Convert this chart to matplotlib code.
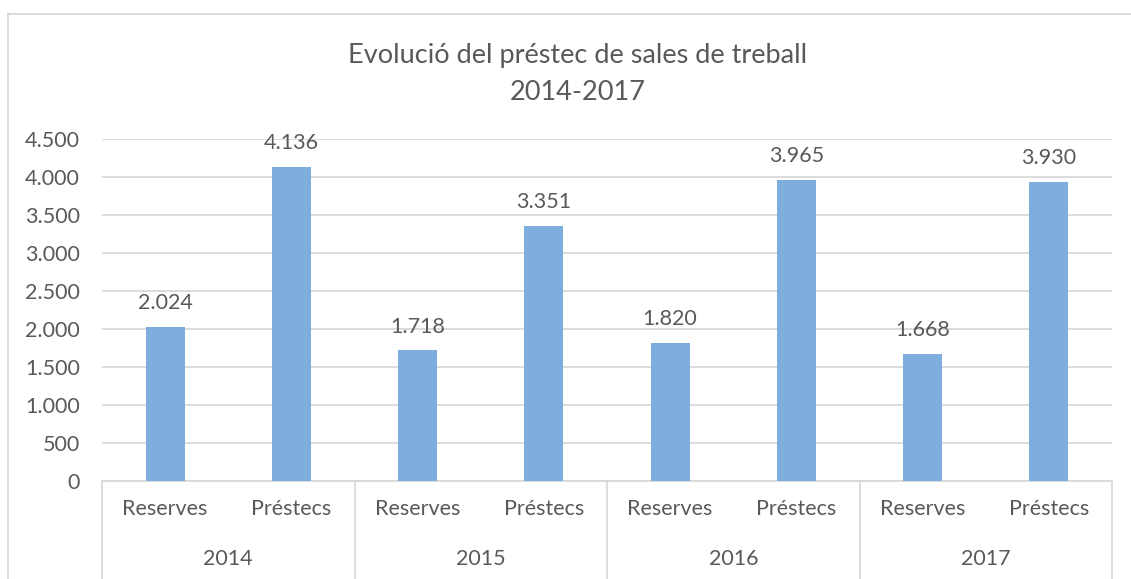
import matplotlib.pyplot as plt
from matplotlib.lines import Line2D
import numpy as np

years = ["2014", "2015", "2016", "2017"]
types = ["Reserves", "Préstecs"]
values = [2024, 4136, 1718, 3351, 1820, 3965, 1668, 3930]
yticks = [0, 500, 1000, 1500, 2000, 2500, 3000, 3500, 4000, 4500]

plt.rcParams['font.family'] = ['Lato', 'DejaVu Sans']
txt = '#595959'
blue = '#7DAEDD'

def fmt(v):
    return f"{v:,}".replace(",", ".")

fig = plt.figure(figsize=(11.31, 5.79), dpi=100)
ax = fig.add_axes([102/1131, 98/579, 1010/1131, 342/579])

x = np.arange(len(values))
bars = ax.bar(x, values, width=0.31, color=blue, zorder=3)
for b, v in zip(bars, values):
    ax.annotate(fmt(v), (b.get_x() + b.get_width()/2, v), xytext=(0, 10),
                textcoords='offset points', ha='center', va='bottom',
                fontsize=15.5, color=txt)

ax.set_xlim(-0.5, len(values) - 0.5)
ax.set_ylim(0, 4500)
ax.set_yticks(yticks)
ax.set_yticklabels([fmt(v) for v in yticks])
ax.grid(axis='y', color='#D9D9D9', linewidth=1.3, zorder=0)
for s in ['top', 'right', 'left']:
    ax.spines[s].set_visible(False)
ax.spines['bottom'].set_color('#D9D9D9')
ax.spines['bottom'].set_linewidth(1.3)
ax.tick_params(axis='y', length=0, pad=16, labelsize=15.5, labelcolor=txt)

# inner level labels
ax.set_xticks(x)
ax.set_xticklabels(types * len(years))
ax.tick_params(axis='x', which='major', length=0, pad=13, labelsize=15.5, labelcolor=txt)
# group separators
ax.set_xticks(np.arange(-0.5, len(values), 2), minor=True)
ax.tick_params(axis='x', which='minor', length=72, width=1.3, color='#D9D9D9')

# outer level labels
trans = ax.get_xaxis_transform()
for i, yr in enumerate(years):
    ax.text(2*i + 0.5, -78/342, yr, transform=trans, ha='center', va='center',
            fontsize=15.5, color=txt)

fig.text(578/1131, 1 - 56/579, "Evolució del préstec de sales de treball",
         ha='center', va='center', fontsize=19.5, color=txt)
fig.text(578/1131, 1 - 92/579, "2014-2017",
         ha='center', va='center', fontsize=19.5, color=txt)

# chart frame
fig.add_artist(Line2D([8/1131, 8/1131], [0, 1 - 14/579], transform=fig.transFigure,
                      color='#D9D9D9', linewidth=1.3))
fig.add_artist(Line2D([8/1131, 1], [1 - 14/579, 1 - 14/579], transform=fig.transFigure,
                      color='#D9D9D9', linewidth=1.3))

fig.savefig('out.png', dpi=100)
